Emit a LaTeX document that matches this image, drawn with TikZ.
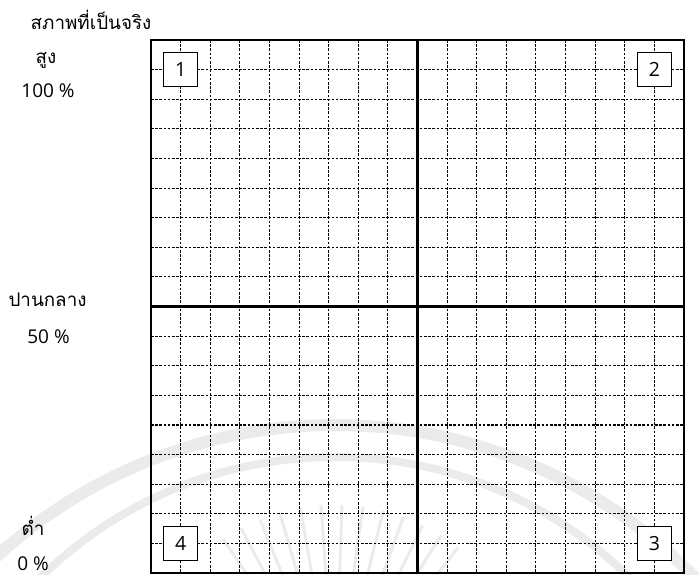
\documentclass[tikz,border=0pt]{standalone}
\usepackage{fontspec}
\setmainfont{Open Sans}
\newfontfamily\thaifont[Script=Thai]{Loma}
\usepackage{tikz}

\begin{document}
\begin{tikzpicture}[
  x=1pt, y=-1pt,
  frame/.style={line width=2.2pt, line cap=rect},
  gridln/.style={line width=1.1pt, dash pattern=on 2.6pt off 1.6pt},
  wm/.style={draw=black!8},
  numbox/.style={draw, line width=1pt, fill=white,
                 minimum size=34pt, inner sep=0pt,
                 font=\fontsize{19.5}{19.5}\selectfont},
  lbl/.style={anchor=base, font=\fontsize{19}{20}\selectfont},
  thai/.style={anchor=base, font=\fontsize{18.8}{21}\selectfont\thaifont},
]
\useasboundingbox (0,0) rectangle (699,574);

% --- Faint watermark behind the chart ---
\begin{scope}
  \clip (0,0) rectangle (699,574);
  \draw[wm, line width=12pt] (335,926) circle[radius=501];
  \draw[wm, line width=8pt]  (335,877) circle[radius=420];
  \foreach \a in {52,58,...,124}
    \draw[wm, line width=3pt]
      ({335+115*cos(\a)},{705-115*sin(\a)}) -- ({335+200*cos(\a)},{705-200*sin(\a)});
\end{scope}

% --- Dashed grid, 18 x 18 cells ---
\foreach \i in {1,...,17} {
  \draw[gridln] ({151+\i*29.611},40) -- ({151+\i*29.611},573);
  \draw[gridln] (151,{40+\i*29.611}) -- (684,{40+\i*29.611});
}

% --- Frame and quadrant axes ---
\draw[frame] (151,40) rectangle (684,573);
\draw[frame] (417.5,40) -- (417.5,573);
\draw[frame] (151,306.5) -- (684,306.5);

% --- Quadrant numbers ---
\node[numbox] (q1) at (180.6,69.6)  {1};
\node[numbox] (q2) at (654.4,69.6)  {2};
\node[numbox] (q3) at (654.4,543.4) {3};
\node[numbox] (q4) at (180.6,543.4) {4};

% --- Axis labels (left side) ---
\node[thai] (real) at (91,29)    {สภาพที่เป็นจริง};
\node[thai] (high) at (46,63)    {สูง};
\node[lbl]  (p100) at (48,97)    {100 \%};
\node[thai] (mid)  at (47.5,306) {ปานกลาง};
\node[lbl]  (p50)  at (48.5,343) {50 \%};
\node[thai] (low)  at (33,535)   {ต่ำ};
\node[lbl]  (p0)   at (33,570)   {0 \%};
\end{tikzpicture}
\end{document}
